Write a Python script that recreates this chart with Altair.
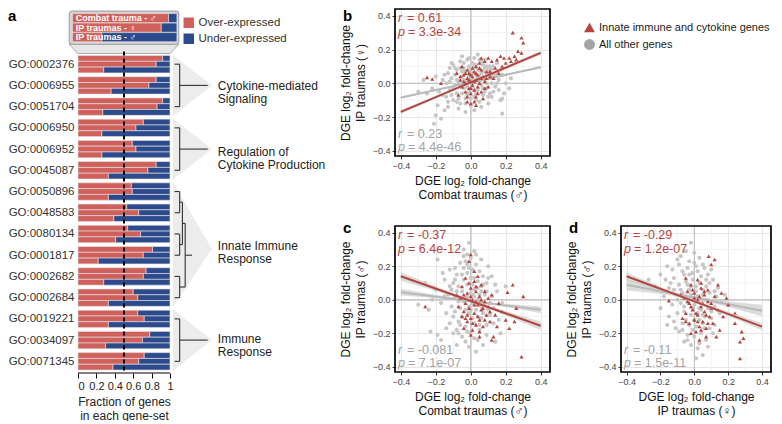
import json
import altair as alt
import pandas as pd

# ---------------- data: panel a ----------------
GO_TERMS = ["GO:0002376", "GO:0006955", "GO:0051704", "GO:0006950", "GO:0006952",
            "GO:0045087", "GO:0050896", "GO:0048583", "GO:0080134", "GO:0001817",
            "GO:0002682", "GO:0002684", "GO:0019221", "GO:0034097", "GO:0071345"]
SERIES = ["Combat trauma - ♂", "IP traumas - ♀", "IP traumas - ♂"]
OVER_COMBAT_M = [0.92, 0.85, 0.92, 0.71, 0.59, 0.85, 0.58, 0.53, 0.54, 0.81, 0.74, 0.60, 0.65, 0.78, 0.72]
OVER_IP_F = [0.85, 0.77, 0.86, 0.63, 0.63, 0.76, 0.59, 0.66, 0.68, 0.71, 0.71, 0.65, 0.72, 0.70, 0.66]
OVER_IP_M = [0.28, 0.36, 0.27, 0.26, 0.26, 0.33, 0.33, 0.39, 0.41, 0.22, 0.28, 0.33, 0.33, 0.30, 0.38]
KINDS = ["Over-expressed", "Under-expressed"]
GROUP_LABELS = ["Cytokine-mediated\nSignaling", "Regulation of\nCytokine Production",
                "Innate Immune\nResponse", "Immune\nResponse"]
GROUP_SPANS = [(0, 2), (3, 5), (6, 11), (12, 14)]

# ---------------- data: panels b-d ----------------
IMMUNE = "Innate immune and cytokine genes"
OTHER = "All other genes"

B_OTHER = [(-0.20,-0.19),(-0.17,-0.21),(-0.21,-0.24),(-0.15,-0.16),(-0.13,-0.14),(-0.19,-0.13),(-0.25,-0.06),
    (-0.30,-0.05),(-0.22,-0.03),(-0.18,-0.05),(-0.16,0.02),(-0.14,-0.08),(-0.12,-0.04),(-0.11,0.03),(-0.10,-0.10),
    (-0.09,0.05),(-0.08,-0.06),(-0.07,0.00),(-0.06,0.09),(-0.06,-0.12),(-0.05,0.04),(-0.04,-0.03),(-0.04,0.12),
    (-0.03,0.07),(-0.03,-0.09),(-0.02,0.01),(-0.02,0.14),(-0.01,-0.05),(-0.01,0.10),(0.00,0.03),(0.00,-0.13),
    (0.01,0.06),(0.01,-0.02),(0.02,0.15),(0.02,-0.08),(0.03,0.02),(0.03,0.11),(0.04,-0.04),(0.04,0.08),
    (0.05,-0.11),(0.05,0.04),(0.06,0.13),(0.06,-0.01),(0.07,0.07),(0.07,-0.07),(0.08,0.02),(0.09,0.10),
    (0.09,-0.03),(0.10,0.05),(0.11,-0.06),(0.12,0.08),(0.12,0.00),(0.13,0.04),(0.14,-0.02),(0.15,0.07),
    (0.16,0.02),(0.18,0.05),(0.18,-0.09),(0.20,0.00),(0.23,0.03),(0.19,-0.06),(0.10,-0.12),(0.02,-0.16),
    (-0.03,-0.17),(-0.08,0.08),(-0.13,0.06),(-0.10,0.11),(-0.05,0.16),(0.04,0.17),(0.08,0.14),(0.15,0.12),
    (-0.27,0.02),(-0.20,0.04),(0.22,-0.03),(0.11,0.10),(-0.07,-0.15),(0.06,-0.14),(-0.02,-0.07),(0.03,0.05),
    (-0.01,0.04),(0.02,-0.04),(-0.04,0.02),(0.05,0.01),(0.00,0.08),(-0.06,-0.02),(0.08,-0.05),(-0.09,-0.01),
    (-0.11,-0.07),(0.13,0.10),(0.16,-0.04),(-0.14,0.00),(0.07,0.11),(-0.05,0.07),(0.01,0.12),(0.09,0.06),
    (-0.03,-0.12),(0.12,-0.08),(-0.12,0.09),(0.18,-0.18),(0.17,-0.10),
    (-0.12,0.01),(-0.10,-0.03),(-0.08,0.02),(-0.07,-0.09),(-0.05,-0.06),(-0.04,0.09),(-0.02,-0.02),(-0.01,0.07),
    (0.00,-0.09),(0.01,0.02),(0.02,0.10),(0.03,-0.06),(0.04,0.03),(0.06,0.06),(0.07,-0.03),(0.08,0.09),
    (0.09,0.00),(0.10,-0.08),(0.11,0.03),(0.13,-0.05),(0.14,0.05),(-0.15,0.05),(-0.13,-0.11),(-0.09,0.09),
    (-0.06,0.13),(-0.01,0.15),(0.05,0.14),(0.10,0.08),(-0.16,-0.07),(0.15,0.00),(-0.11,0.12),(0.03,-0.10),
    (-0.08,-0.11),(0.12,0.05),(0.17,0.08)]
B_IMMUNE = [(0.24,0.30),(0.29,0.27),(0.30,0.24),(0.29,0.18),(0.27,0.19),(0.25,0.16),(0.22,0.15),(0.19,0.15),
    (0.17,0.16),(0.15,0.14),(0.12,0.13),(0.10,0.15),(0.08,0.13),(0.06,0.15),(0.20,0.12),(0.23,0.13),(0.26,0.14),
    (0.18,0.10),(0.14,0.09),(0.11,0.07),(-0.25,0.035),(-0.22,0.025),(-0.17,0.00),(-0.08,0.06),(-0.06,0.02),
    (-0.05,-0.02),(-0.04,0.05),(-0.03,0.00),(-0.03,-0.05),(-0.02,0.08),(-0.02,0.03),(-0.01,-0.03),(-0.01,0.06),
    (0.00,0.01),(0.00,-0.06),(0.01,0.04),(0.01,-0.01),(0.02,0.07),(0.02,-0.04),(0.03,0.02),(0.03,-0.08),
    (0.04,0.05),(0.04,-0.02),(0.05,0.09),(0.05,0.00),(0.06,-0.05),(0.07,0.04),(0.08,0.01),(0.09,0.07),
    (0.10,-0.02),(0.07,-0.09),(-0.07,-0.07),(0.00,-0.12),(-0.02,-0.11),(0.03,-0.13),(0.05,0.12),(-0.05,0.10),
    (0.13,0.03),(0.16,0.06),
    (-0.04,0.01),(-0.02,-0.08),(0.00,0.05),(0.01,0.09),(0.02,0.01),(0.03,0.06),(0.04,-0.06),(0.06,0.03),
    (0.06,0.08),(0.08,-0.03),(0.09,0.03),(-0.01,0.02),(0.00,-0.03),(0.03,0.10),(-0.06,0.04),(0.11,0.04),
    (0.02,-0.11),(-0.03,0.06)]

C_OTHER = [(-0.01,0.34),(0.02,0.29),(-0.02,0.27),(0.00,0.25),(-0.19,0.24),(-0.12,0.18),(-0.06,0.22),(-0.04,0.19),
    (0.03,0.21),(0.05,0.17),(-0.08,0.15),(-0.02,0.16),(0.01,0.18),(-0.10,0.10),(-0.15,0.12),(-0.20,0.06),
    (-0.07,0.08),(-0.04,0.12),(0.00,0.13),(0.04,0.11),(0.07,0.09),(0.10,0.13),(-0.13,0.03),(-0.09,0.02),
    (-0.05,0.05),(-0.02,0.09),(0.02,0.06),(0.05,0.03),(0.09,0.05),(0.12,0.02),(-0.17,-0.02),(-0.11,-0.04),
    (-0.07,-0.01),(-0.03,0.01),(0.01,-0.02),(0.04,0.00),(0.08,-0.03),(0.13,-0.05),(-0.30,-0.03),(-0.24,-0.06),
    (-0.14,-0.08),(-0.09,-0.07),(-0.05,-0.10),(-0.01,-0.08),(0.03,-0.06),(0.06,-0.11),(0.11,-0.09),(-0.12,-0.14),
    (-0.07,-0.13),(-0.03,-0.16),(0.02,-0.14),(0.05,-0.18),(0.09,-0.15),(-0.23,-0.19),(-0.19,-0.21),(-0.17,-0.24),
    (-0.10,-0.20),(-0.05,-0.22),(0.00,-0.20),(0.04,-0.24),(-0.01,-0.28),(0.03,-0.31),(0.14,-0.25),(0.17,-0.20),
    (0.07,-0.27),(-0.08,-0.27),(0.15,0.05),(0.18,-0.02),(0.16,-0.12),(0.12,0.14),(-0.16,0.16),(-0.22,0.00),
    (0.06,0.24),(-0.04,0.26),(0.00,0.04),(-0.01,-0.04),(0.02,0.02),(-0.06,-0.05),(0.07,0.14),(-0.09,0.19),
    (0.09,-0.21),(-0.14,-0.17),(0.10,0.20),(-0.02,0.21),(0.04,-0.10),(-0.04,-0.01),(0.08,0.03),(-0.11,0.06),
    (0.13,-0.14),(0.20,0.08),(-0.26,0.10),(0.01,0.09),(-0.03,-0.25),(0.06,0.08),(0.11,-0.02),(-0.08,-0.18),
    (-0.02,0.02),(0.01,0.03),(-0.05,0.00),(0.03,-0.02),(-0.03,-0.06),(0.00,-0.06),(0.06,-0.04),(-0.08,0.05),
    (0.02,0.13),(-0.05,0.15),(-0.01,0.19),(0.04,0.07),(-0.06,-0.15),(0.01,-0.11),(0.07,-0.08),(-0.10,-0.10),
    (-0.12,0.08),(0.09,0.10),(-0.03,0.23),(0.03,0.27),(-0.02,-0.19),(0.05,-0.15),(-0.09,0.12),(0.10,-0.06),
    (0.06,0.05),(-0.15,0.02),(0.14,0.09),(-0.07,-0.20),(0.02,-0.23),(-0.04,0.30)]
C_IMMUNE = [(0.24,0.09),(0.30,0.02),(0.21,0.045),(0.26,-0.05),(0.25,-0.13),(0.29,-0.34),(0.20,-0.12),(0.18,-0.07),
    (0.16,-0.02),(0.22,-0.17),(0.13,-0.22),(0.12,-0.24),(-0.26,-0.04),(0.00,0.27),(-0.01,0.23),(0.04,0.14),
    (-0.03,0.13),(0.02,0.11),(0.06,0.09),(-0.05,0.08),(0.00,0.07),(0.03,0.05),(-0.02,0.04),(0.05,0.02),
    (-0.06,0.01),(0.01,0.00),(0.08,-0.01),(-0.03,-0.02),(0.04,-0.03),(0.10,-0.04),(-0.01,-0.05),(0.06,-0.06),
    (-0.04,-0.07),(0.02,-0.08),(0.09,-0.09),(0.00,-0.11),(0.05,-0.12),(-0.02,-0.13),(0.03,-0.15),(0.07,-0.16),
    (0.01,-0.18),(-0.04,-0.17),(0.11,-0.13),(0.14,-0.09),(0.12,0.03),(0.08,0.05),(-0.07,-0.04),(0.00,-0.21),
    (0.05,-0.22),(-0.08,0.03),(0.15,-0.16),(0.10,0.01),(0.02,0.17),(-0.05,-0.10),
    (0.00,0.02),(0.02,-0.03),(-0.02,-0.09),(0.04,-0.10),(0.06,0.00),(-0.01,0.10),(0.03,0.08),(0.01,-0.14),
    (0.07,-0.05),(-0.04,0.03),(0.05,-0.19),(0.08,-0.12),(0.11,-0.07),(0.03,-0.01),(-0.03,-0.11)]

D_OTHER = [(-0.27,0.12),(-0.20,0.15),(-0.16,0.20),(-0.10,0.24),(-0.05,0.29),(-0.02,0.34),(0.00,0.22),(-0.07,0.17),
    (-0.12,0.13),(-0.04,0.19),(0.02,0.17),(0.05,0.21),(0.08,0.15),(-0.15,0.07),(-0.09,0.09),(-0.05,0.11),
    (-0.01,0.12),(0.03,0.10),(0.07,0.08),(0.11,0.12),(-0.18,0.02),(-0.11,0.03),(-0.07,0.04),(-0.03,0.06),
    (0.01,0.05),(0.05,0.03),(0.09,0.04),(0.13,0.02),(-0.13,-0.03),(-0.08,-0.02),(-0.04,-0.01),(0.00,-0.03),
    (0.04,-0.02),(0.08,-0.05),(0.12,-0.04),(0.16,-0.01),(-0.10,-0.08),(-0.06,-0.07),(-0.02,-0.09),(0.02,-0.08),
    (0.06,-0.10),(0.10,-0.11),(-0.12,-0.13),(-0.07,-0.14),(-0.03,-0.15),(0.01,-0.16),(0.05,-0.14),(0.09,-0.17),
    (-0.09,-0.19),(-0.04,-0.21),(0.00,-0.22),(0.04,-0.20),(0.07,-0.24),(-0.02,-0.27),(0.02,-0.29),(0.05,-0.33),
    (-0.06,-0.25),(0.11,-0.20),(-0.15,-0.10),(-0.20,-0.05),(0.14,0.07),(0.10,0.18),(-0.13,0.18),(-0.08,0.26),
    (0.03,0.25),(0.12,-0.15),(-0.01,0.01),(0.03,-0.05),(-0.05,0.02),(0.06,0.00),(-0.02,0.08),(0.00,-0.12),
    (-0.11,-0.17),(0.08,-0.28),(0.15,-0.08),(-0.23,0.08),(0.07,0.12),(-0.03,0.15),(0.01,-0.35),(0.18,0.03),
    (-0.16,-0.15),(-0.09,0.21),(0.06,0.19),(-0.14,0.10),
    (-0.02,0.03),(0.02,0.02),(-0.06,-0.04),(0.04,-0.06),(-0.01,-0.05),(0.01,0.08),(-0.04,0.09),(0.05,0.06),
    (-0.08,0.06),(0.08,0.00),(-0.03,0.23),(0.01,0.20),(-0.06,0.15),(0.04,0.14),(-0.10,0.00),(0.10,-0.07),
    (-0.05,-0.12),(0.03,-0.12),(-0.01,-0.18),(0.06,-0.17),(-0.07,-0.18),(0.00,0.28),(-0.12,0.06),(0.12,0.05),
    (-0.04,-0.24),(0.03,-0.26),(-0.17,0.12),(0.09,0.10),(-0.01,0.16),(0.05,-0.09)]
D_IMMUNE = [(0.085,0.26),(0.12,0.24),(0.10,0.21),(0.24,-0.14),(0.28,-0.19),(0.29,-0.23),(0.27,-0.25),(0.27,-0.35),
    (0.24,-0.08),(0.20,-0.03),(0.17,-0.10),(0.15,-0.18),(0.13,-0.22),(0.16,0.04),(0.14,0.09),(0.19,0.01),
    (-0.15,-0.005),(-0.05,0.13),(0.02,0.12),(-0.02,0.09),(0.04,0.07),(-0.04,0.05),(0.00,0.04),(0.06,0.03),
    (-0.06,0.01),(0.02,0.00),(0.08,-0.01),(-0.03,-0.02),(0.04,-0.04),(0.10,-0.05),(-0.01,-0.06),(0.06,-0.07),
    (-0.05,-0.08),(0.02,-0.09),(0.09,-0.10),(0.00,-0.12),(0.05,-0.13),(-0.03,-0.14),(0.03,-0.16),(0.07,-0.17),
    (0.01,-0.19),(0.11,-0.14),(-0.07,-0.11),(0.12,0.02),(0.08,0.06),(-0.08,0.03),(0.03,-0.24),(0.07,-0.22),
    (-0.02,-0.20),(0.14,-0.06),
    (0.00,0.01),(0.03,0.02),(-0.02,-0.04),(0.05,-0.02),(0.01,-0.08),(-0.04,-0.01),(0.07,-0.09),(0.04,0.10),
    (-0.01,0.06),(0.08,-0.14),(0.02,-0.13),(-0.05,-0.13),(0.10,-0.02),(0.06,0.05),(0.04,-0.18)]

# fitted lines (value at x=-0.4 and x=0.4) and half-widths of the confidence band (ends, centre)
B_FIT = {"red": (-0.17, 0.18), "gray": (-0.085, 0.095), "red_se": (0.012, 0.005), "gray_se": (0.008, 0.003)}
C_FIT = {"red": (0.14, -0.155), "gray": (0.045, -0.06), "red_se": (0.025, 0.008), "gray_se": (0.02, 0.005)}
D_FIT = {"red": (0.14, -0.16), "gray": (0.09, -0.065), "red_se": (0.022, 0.008), "gray_se": (0.035, 0.008)}
B_STATS = ("0.61", "3.3e-34", "0.23", "4.4e-46")
C_STATS = ("-0.37", "6.4e-12", "-0.081", "7.1e-07")
D_STATS = ("-0.29", "1.2e-07", "-0.11", "1.5e-11")

# ---------------- styling ----------------
FONT = "Liberation Sans"
RED_BAR, BLUE_BAR = "#d0605c", "#2c4a8c"
RED_PT, GRAY_PT = "#b5443e", "#c6c6c6"
GRAY_TXT = "#a3a3a3"

# ================= panel a =================
A_YDOM = [-2.6, 14.55]
A_XDOM = [0, 2.413]
ys_a = alt.Scale(domain=A_YDOM, reverse=True, nice=False, zero=False)
xs_a = alt.Scale(domain=A_XDOM, nice=False, zero=False)
ROWH = 0.82 / 3

bar_rows = []
for i, go in enumerate(GO_TERMS):
    for j, vals in enumerate([OVER_COMBAT_M, OVER_IP_F, OVER_IP_M]):
        p = vals[i]
        y0 = i - 0.41 + j * ROWH
        bar_rows.append(dict(go=go, kind=KINDS[0], x0=0.0, x1=p, y0=y0, y1=y0 + ROWH))
        bar_rows.append(dict(go=go, kind=KINDS[1], x0=p, x1=1.0, y0=y0, y1=y0 + ROWH))
bars_df = pd.DataFrame(bar_rows)

HX0, HX1 = -0.06, 1.075
HEAD_C = [-2.17, -1.722, -1.274]
head_rows, head_txt = [], []
for j, vals in enumerate([OVER_COMBAT_M, OVER_IP_F, OVER_IP_M]):
    p = vals[0]
    xm = HX0 + p * (HX1 - HX0)
    head_rows.append(dict(kind=KINDS[0], x0=HX0, x1=xm, y0=HEAD_C[j] - 0.215, y1=HEAD_C[j] + 0.215))
    head_rows.append(dict(kind=KINDS[1], x0=xm, x1=HX1, y0=HEAD_C[j] - 0.215, y1=HEAD_C[j] + 0.215))
    head_txt.append(dict(x=-0.025, y=HEAD_C[j], t=SERIES[j]))
head_df = pd.DataFrame(head_rows)

color_a = alt.Color("kind:N", scale=alt.Scale(domain=KINDS, range=[RED_BAR, BLUE_BAR]),
                    legend=alt.Legend(orient="none", legendX=105, legendY=8, title=None,
                                      symbolType="square", symbolSize=110, symbolStrokeWidth=0,
                                      labelFontSize=11.5, labelColor="#333", rowPadding=3,
                                      labelFont=FONT))

go_expr = json.dumps(GO_TERMS) + "[datum.value]"
y_axis_a = alt.Axis(values=list(range(15)), labelExpr=go_expr, domain=False, ticks=False, grid=False,
                    labelFontSize=11.5, labelColor="#333", labelPadding=4, title=None)
x_axis_a = alt.Axis(values=[0, 0.2, 0.4, 0.6, 0.8, 1.0], format="~g", domain=False, grid=False,
                    tickColor="black", tickSize=5, labelFontSize=11, labelColor="#222",
                    title=["Fraction of genes", "in each gene-set"], titleX=46, titleAlign="center",
                    titleAnchor="start", titleFontSize=12, titleFontWeight="normal", titleColor="#222",
                    titlePadding=5, labelPadding=2)


def XA(f):
    return alt.X(f, type="quantitative", scale=xs_a, axis=x_axis_a)


def YA(f):
    return alt.Y(f, type="quantitative", scale=ys_a, axis=y_axis_a)


# triangles (shaded wedges) behind the brackets
tri_rows = []
for k, (a0, a1) in enumerate(GROUP_SPANS):
    apex = [1.0, 4.0, 8.7, 13.0][k]
    tri_rows.append(dict(g=k, x=1.03, lo=a0 - 0.45, hi=a1 + 0.45))
    tri_rows.append(dict(g=k, x=1.455, lo=apex, hi=apex))
tri_df = pd.DataFrame(tri_rows)
tri = alt.Chart(tri_df).mark_area(orient="vertical", color="#ececec").encode(
    x=XA("x"), y=YA("lo"), y2="hi", detail="g:N")

# bracket segments
BX, BT, BM = 1.105, 1.05, 1.41
seg = []
for a0, a1 in [GROUP_SPANS[0], GROUP_SPANS[1], GROUP_SPANS[3]]:
    seg += [dict(x=BX, x2=BX, y=a0, y2=a1), dict(x=BT, x2=BX, y=a0, y2=a0),
            dict(x=BT, x2=BX, y=a1, y2=a1), dict(x=BX, x2=BM, y=(a0 + a1) / 2, y2=(a0 + a1) / 2)]
for a0, a1 in [(6, 7), (8, 9), (10, 11)]:
    seg += [dict(x=BX, x2=BX, y=a0, y2=a1), dict(x=BT, x2=BX, y=a0, y2=a0),
            dict(x=BT, x2=BX, y=a1, y2=a1)]
seg += [dict(x=BX, x2=1.135, y=6.5, y2=6.5), dict(x=BX, x2=1.135, y=8.5, y2=8.5),
        dict(x=1.135, x2=1.135, y=6.5, y2=8.5), dict(x=1.135, x2=1.165, y=7.5, y2=7.5),
        dict(x=BX, x2=1.165, y=10.5, y2=10.5), dict(x=1.165, x2=1.165, y=7.5, y2=10.5),
        dict(x=1.165, x2=1.24, y=9.0, y2=9.0)]
seg_df = pd.DataFrame(seg)
brackets = alt.Chart(seg_df).mark_rule(color="#333", strokeWidth=1.1).encode(
    x=XA("x"), x2="x2", y=YA("y"), y2="y2")

lab_df = pd.DataFrame(dict(x=[1.52] * 4, y=[1.04, 4.15, 8.58, 12.95], t=GROUP_LABELS))
labels = alt.Chart(lab_df).mark_text(align="left", baseline="middle", lineBreak="\n", fontSize=12,
                                     lineHeight=13, color="#222", font=FONT).encode(
    x=XA("x"), y=YA("y"), text="t:N")

box_df = pd.DataFrame(dict(x0=[-0.095], x1=[1.095], y0=[-2.5], y1=[-0.93]))
box = alt.Chart(box_df).mark_rect(fill="#d5d5d5", stroke="#a8a8a8", strokeWidth=1.2, cornerRadius=3).encode(
    x=XA("x0"), x2="x1", y=YA("y0"), y2="y1")
call_df = pd.DataFrame(dict(y=[-0.93, -0.5], xa=[-0.095, 0.0], xb=[1.095, 1.0]))
callout = alt.Chart(call_df).mark_area(orient="horizontal", fill="#e6e6e6", stroke="#a8a8a8",
                                       strokeWidth=1).encode(y=YA("y"), x=XA("xa"), x2="xb")

bars = alt.Chart(bars_df).mark_rect(stroke="#e4e4e4", strokeWidth=0.6).encode(
    x=XA("x0"), x2="x1", y=YA("y0"), y2="y1", color=color_a)
head = alt.Chart(head_df).mark_rect(stroke="#e4e4e4", strokeWidth=0.6).encode(
    x=XA("x0"), x2="x1", y=YA("y0"), y2="y1", color=color_a)
head_t = alt.Chart(pd.DataFrame(head_txt)).mark_text(align="left", baseline="middle", fontSize=9,
                                                      fontWeight="bold", color="white", font=FONT).encode(
    x=XA("x"), y=YA("y"), text="t:N")

dash = alt.Chart(pd.DataFrame(dict(x=[0.5], y=[-0.6], y2=[A_YDOM[1]]))).mark_rule(
    color="black", strokeWidth=2, strokeDash=[4, 3]).encode(x=XA("x"), y=YA("y"), y2="y2")
axline = alt.Chart(pd.DataFrame(dict(x=[0.0], x2=[1.0], y=[A_YDOM[1]]))).mark_rule(
    color="black", strokeWidth=1).encode(x=XA("x"), x2="x2", y=YA("y"))
letter_a = alt.Chart(pd.DataFrame(dict(t=["a"]))).mark_text(
    align="left", baseline="top", fontSize=15, fontWeight="bold", font=FONT, color="black").encode(
    x=alt.value(-70), y=alt.value(0), text="t:N")

panel_a = alt.layer(tri, brackets, labels, callout, box, head, head_t, bars, dash, axline, letter_a).properties(
    width=222, height=364)


# ================= scatter panels =================
XS = alt.Scale(domain=[-0.433, 0.453], nice=False, zero=False)
YS = alt.Scale(domain=[-0.431, 0.44], nice=False, zero=False)
TICKS = [-0.4, -0.2, 0.0, 0.2, 0.4]
MINOR = [-0.3, -0.1, 0.1, 0.3]

legend_s = alt.Legend(orient="none", legendX=189, legendY=13, title=None, symbolSize=120,
                      labelFontSize=11, labelColor="#222", labelLimit=400, rowPadding=5,
                      labelFont=FONT, symbolStrokeWidth=0)
color_s = alt.Color("set:N", scale=alt.Scale(domain=[IMMUNE, OTHER], range=[RED_PT, "#a4a4a4"]),
                    legend=legend_s)
shape_s = alt.Shape("set:N", scale=alt.Scale(domain=[IMMUNE, OTHER], range=["triangle-up", "circle"]),
                    legend=legend_s)


def scatter(other, immune, fit, stats, xtitle, ytitle, letter, w, h):
    xaxis = alt.Axis(values=TICKS, format=".1f", grid=True, gridColor="#e6e6e6", domain=False,
                     tickColor="#333", tickSize=3, labelFontSize=9, labelColor="#444", labelPadding=2,
                     title=xtitle, titleFontSize=12, titleFontWeight="normal", titleColor="#111",
                     titlePadding=5, titleLineHeight=14.5, titleFont=FONT)
    yaxis = alt.Axis(values=TICKS, format=".1f", grid=True, gridColor="#e6e6e6", domain=False,
                     tickColor="#333", tickSize=3, labelFontSize=9, labelColor="#444", labelPadding=2,
                     title=ytitle, titleFontSize=12, titleFontWeight="normal", titleColor="#111",
                     titlePadding=5, titleLineHeight=14.5, titleFont=FONT)

    def X(f):
        return alt.X(f, type="quantitative", scale=XS, axis=xaxis)

    def Y(f):
        return alt.Y(f, type="quantitative", scale=YS, axis=yaxis)

    minor_df = pd.DataFrame(dict(v=MINOR))
    gx = alt.Chart(minor_df).mark_rule(color="#f2f2f2", strokeWidth=1).encode(x=X("v"))
    gy = alt.Chart(minor_df).mark_rule(color="#f2f2f2", strokeWidth=1).encode(y=Y("v"))
    zero_df = pd.DataFrame(dict(v=[0.0]))
    zx = alt.Chart(zero_df).mark_rule(color="#b8b8b8", strokeWidth=1).encode(x=X("v"))
    zy = alt.Chart(zero_df).mark_rule(color="#b8b8b8", strokeWidth=1).encode(y=Y("v"))

    pts = pd.DataFrame([dict(x=x, y=y, set=OTHER) for x, y in other] +
                       [dict(x=x, y=y, set=IMMUNE) for x, y in immune])
    p_other = alt.Chart(pts[pts.set == OTHER]).mark_point(filled=True, size=17, opacity=1, color=GRAY_PT).encode(
        x=X("x"), y=Y("y"), shape=shape_s)
    p_imm = alt.Chart(pts[pts.set == IMMUNE]).mark_point(filled=True, size=17, opacity=1).encode(
        x=X("x"), y=Y("y"), shape=shape_s, color=color_s)

    def band_line(key, colr, lw):
        y0, y1 = fit[key]
        e_end, e_mid = fit[key + "_se"]
        ym = (y0 + y1) / 2
        bdf = pd.DataFrame(dict(x=[-0.4, 0.0, 0.4], lo=[y0 - e_end, ym - e_mid, y1 - e_end],
                                hi=[y0 + e_end, ym + e_mid, y1 + e_end], m=[y0, ym, y1]))
        band = alt.Chart(bdf).mark_area(color="#c9c9c9", opacity=0.65, interpolate="monotone").encode(
            x=X("x"), y=Y("lo"), y2="hi")
        line = alt.Chart(bdf).mark_line(color=colr, strokeWidth=lw).encode(x=X("x"), y=Y("m"))
        return band, line

    gband, gline = band_line("gray", "#b9b9b9", 2)
    rband, rline = band_line("red", RED_PT, 2)

    one = pd.DataFrame(dict(a=[0]))

    def txt(s, xv, yv, colr, italic=False):
        return alt.Chart(one).mark_text(align="left", baseline="alphabetic", fontSize=12.5, font=FONT,
                                        color=colr, fontStyle="italic" if italic else "normal").encode(
            x=alt.value(xv), y=alt.value(yv), text=alt.value(s))

    r_red, p_red, r_gray, p_gray = stats
    texts = [txt("r", 3, 13, RED_PT, True), txt("= " + r_red, 12, 13, RED_PT),
             txt("p", 3, 26.5, RED_PT, True), txt("= " + p_red, 13, 26.5, RED_PT),
             txt("r", 3, h - 18.5, GRAY_TXT, True), txt("= " + r_gray, 12, h - 18.5, GRAY_TXT),
             txt("p", 3, h - 5, GRAY_TXT, True), txt("= " + p_gray, 13, h - 5, GRAY_TXT)]
    frame = alt.Chart(one).mark_rect(fillOpacity=0, stroke="black", strokeWidth=1.7).encode(
        x=alt.value(0), x2=alt.value(w), y=alt.value(0), y2=alt.value(h))
    let = alt.Chart(one).mark_text(align="left", baseline="top", fontSize=15, fontWeight="bold", font=FONT,
                                   color="black").encode(x=alt.value(-52), y=alt.value(0 if letter == "b" else -5),
                                                         text=alt.value(letter))
    return alt.layer(gx, gy, zx, zy, p_other, gband, gline, p_imm, rband, rline, *texts, frame, let).properties(
        width=w, height=h)


L1 = "DGE log₂ fold-change"
panel_b = scatter(B_OTHER, B_IMMUNE, B_FIT, B_STATS, [L1, "Combat traumas (♂)"], [L1, "IP traumas (♀)"], "b", 155, 147)
panel_c = scatter(C_OTHER, C_IMMUNE, C_FIT, C_STATS, [L1, "Combat traumas (♂)"], [L1, "IP traumas (♂)"], "c", 155, 146)
panel_d = scatter(D_OTHER, D_IMMUNE, D_FIT, D_STATS, [L1, "IP traumas (♀)"], [L1, "IP traumas (♂)"], "d", 150, 146)

row2 = alt.hconcat(panel_c, panel_d, spacing=71, bounds="flush")
right = alt.vconcat(panel_b, row2, spacing=70, bounds="flush")
chart = alt.hconcat(panel_a, right, spacing=95, bounds="flush").resolve_scale(
    color="independent", shape="independent").properties(padding=0).configure(font=FONT).configure_view(
    stroke=None).configure_axis(labelFont=FONT, titleFont=FONT)

chart.save("out.html", embed_options={"renderer": "svg", "actions": False})
